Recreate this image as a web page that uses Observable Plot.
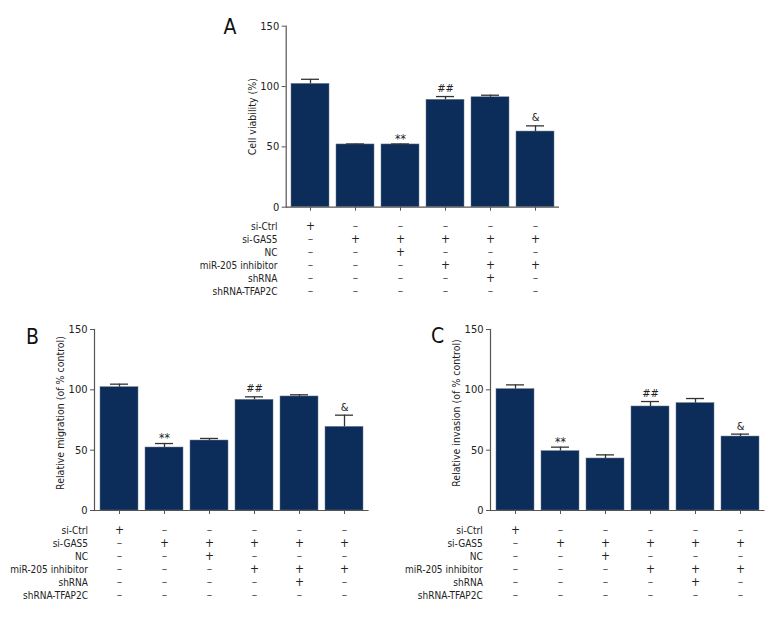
<!DOCTYPE html>
<html><head><meta charset="utf-8">
<script src="https://cdn.jsdelivr.net/npm/d3@7"></script>
<script src="https://cdn.jsdelivr.net/npm/@observablehq/plot@0.6"></script>
<style>
body{margin:0;background:#fff;}
#root{position:relative;width:780px;height:624px;background:#fff;overflow:hidden;font-family:"Liberation Sans Narrow","DejaVu Sans Condensed",sans-serif;}
.part{position:absolute;}
.part svg{overflow:visible;}
.letter{position:absolute;font-size:21px;line-height:1;color:#111;transform:translate(-50%,-50%);}
</style></head><body><div id="root"></div>
<script>
// ---- data ----
const groups = ["G1", "G2", "G3", "G4", "G5", "G6"];
const yTicks = [0, 50, 100, 150];

const viability = [102.2, 52.0, 52.0, 89.0, 91.1, 62.7];
const viabilityErr = [3.8, 0.4, 0.4, 2.7, 1.7, 4.7];
const viabilitySig = ["", "", "**", "##", "", "&"];

const migration = [102.2, 52.2, 58.0, 91.7, 94.5, 69.3];
const migrationErr = [2.5, 3.3, 1.7, 2.5, 1.4, 9.7];
const migrationSig = ["", "**", "", "##", "", "&"];

const invasion = [100.6, 49.2, 43.1, 86.2, 89.0, 61.3];
const invasionErr = [3.5, 3.3, 3.0, 4.1, 3.8, 2.0];
const invasionSig = ["", "**", "", "##", "", "&"];

const conditions = ["si-Ctrl", "si-GAS5", "NC", "miR-205 inhibitor", "shRNA", "shRNA-TFAP2C"];
const siCtrl   = [1, 0, 0, 0, 0, 0];
const siGAS5   = [0, 1, 1, 1, 1, 1];
const ncRow    = [0, 0, 1, 0, 0, 0];
const miR205   = [0, 0, 0, 1, 1, 1];
const shRNA    = [0, 0, 0, 0, 1, 0];
const shTFAP2C = [0, 0, 0, 0, 0, 0];
const matrix = [siCtrl, siGAS5, ncRow, miR205, shRNA, shTFAP2C];

// ---- drawing ----
const FONT = '"Liberation Sans Narrow","DejaVu Sans Condensed",sans-serif';
const BAR = "#0c2d5a";
const AXIS = "#555";
const root = document.getElementById("root");

function place(node, left, top) {
  const d = document.createElement("div");
  d.className = "part";
  d.style.left = left + "px";
  d.style.top = top + "px";
  d.appendChild(node);
  root.appendChild(d);
}
function letter(t, cx, cy) {
  const d = document.createElement("div");
  d.className = "letter";
  d.textContent = t;
  d.style.left = cx + "px";
  d.style.top = cy + "px";
  root.appendChild(d);
}

function panel(o) {
  const rows = groups.map((g, i) => ({g, v: o.values[i], hi: o.values[i] + o.errors[i], s: o.sig[i]}));
  const xs = {type: "band", domain: groups, paddingInner: o.pi, paddingOuter: o.po, align: 0.5};
  const chart = Plot.plot({
    width: o.width, height: o.height,
    marginLeft: o.ml, marginRight: o.mr, marginTop: o.mt, marginBottom: o.mb,
    style: {fontFamily: FONT, fontSize: "11px", color: "#222", background: "transparent", overflow: "visible"},
    x: xs,
    y: {domain: [0, 150]},
    marks: [
      Plot.barY(rows, {x: "g", y: "v", fill: BAR, stroke: "#6b7a8c", strokeWidth: 0.5}),
      Plot.ruleX(rows, {x: "g", y1: "v", y2: "hi", stroke: "#333", strokeWidth: 1.3}),
      Plot.tickY(rows, {x: "g", y: "hi", stroke: "#333", strokeWidth: 1.3, insetLeft: 10, insetRight: 10}),
      Plot.text(rows.filter(d => d.s === "**"), {x: "g", y: "hi", text: "s", dy: -5, fontSize: 12, fill: "#222"}),
      Plot.text(rows.filter(d => d.s && d.s !== "**"), {x: "g", y: "hi", text: "s", dy: -8, fontSize: 11, fill: "#222"}),
      Plot.axisY({ticks: yTicks, tickSize: 4, tickPadding: 3, stroke: AXIS, label: null, fontSize: 11}),
      Plot.axisX({tickSize: 4, tickFormat: () => "", label: null, stroke: AXIS}),
      Plot.frame({anchor: "left", stroke: AXIS, strokeWidth: 1.2}),
      Plot.ruleY([0], {stroke: AXIS, strokeWidth: 1.2}),
      Plot.text([o.label], {frameAnchor: "left", textAnchor: "middle", lineAnchor: "middle", rotate: -90, dx: -34, dy: o.labelDy, fontSize: 10.5, fill: "#222"})
    ]
  });
  place(chart, o.left, o.top);

  const cells = [];
  conditions.forEach((c, r) => groups.forEach((g, i) => cells.push({c, g, on: matrix[r][i]})));
  const table = Plot.plot({
    width: o.width, height: o.th,
    marginLeft: o.ml, marginRight: o.mr, marginTop: o.tmt, marginBottom: o.tmb,
    style: {fontFamily: FONT, fontSize: "10px", color: "#222", background: "transparent", overflow: "visible"},
    x: {...xs, axis: null},
    y: {type: "point", domain: conditions, padding: 0},
    marks: [
      Plot.axisY({tickSize: 0, tickPadding: o.tp, label: null, fontSize: 10}),
      Plot.text(cells, {x: "g", y: "c", text: d => d.on ? "+" : "\u2013", fontSize: 12, fill: d => d.on ? "#222" : "#555"})
    ]
  });
  place(table, o.left, o.ttop);
}

panel({values: viability, errors: viabilityErr, sig: viabilitySig, label: "Cell viability (%)",
  left: 200, top: 0, width: 370, height: 220, ml: 85.7, mr: 11, mt: 25.7, mb: 13.3, pi: 0.15, po: 0.111, labelDy: 0,
  ttop: 215, th: 85, tmt: 10, tmb: 8, tp: 8.7});
panel({values: migration, errors: migrationErr, sig: migrationSig, label: "Relative migration (of % control)",
  left: 0, top: 310, width: 390, height: 215, ml: 94, mr: 21.4, mt: 19, mb: 15, pi: 0.16, po: 0.117, labelDy: -7,
  ttop: 515, th: 90, tmt: 15, tmb: 10, tp: 6.5});
panel({values: invasion, errors: invasionErr, sig: invasionSig, label: "Relative invasion (of % control)",
  left: 390, top: 310, width: 390, height: 215, ml: 100, mr: 15.5, mt: 19, mb: 15, pi: 0.16, po: 0.111, labelDy: -7,
  ttop: 515, th: 90, tmt: 15, tmb: 10, tp: 7.7});

letter("A", 230, 27);
letter("B", 32.5, 336.5);
letter("C", 437.5, 336);
</script>
</body></html>
